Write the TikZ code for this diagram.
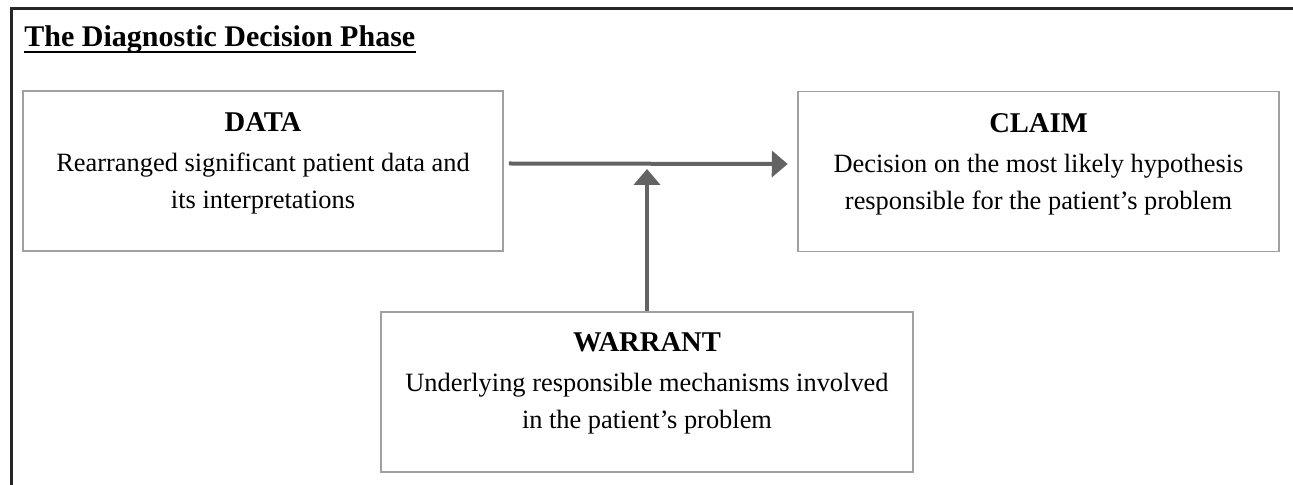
\documentclass[tikz,border=0pt]{standalone}
\usepackage{fontspec}
\setmainfont{Liberation Serif}
\usepackage{tikz}
\usetikzlibrary{positioning}
\usetikzlibrary{arrows.meta}
\definecolor{framecol}{HTML}{262626}
\definecolor{boxcol}{HTML}{A0A0A0}
\definecolor{arrowcol}{HTML}{636363}
\tikzstyle{argbox}=[draw=boxcol, line width=0.75pt, minimum height=80pt, inner sep=0pt]
\tikzstyle{argtext}=[align=center, inner sep=0pt, font=\fontsize{13.2}{18.5}\selectfont]
\tikzstyle{argarrow}=[draw=arrowcol, line width=2pt, -{Triangle[length=8pt, width=13pt]}]
\newcommand{\arghead}[1]{{\fontsize{14.3}{18.5}\selectfont\bfseries #1}}

\begin{document}
\begin{tikzpicture}[x=0.5pt, y=-0.5pt]
        \useasboundingbox (0, 0) rectangle (1293, 485);
        \draw[framecol, line width=1.25pt] (1293, 8.7) -- (11.3, 8.7) -- (11.3, 485);
        \node[anchor=base west, inner sep=0pt, font=\fontsize{15}{18}\selectfont\bfseries] (title) at (24, 47) {The Diagnostic Decision Phase};
        \draw[line width=1pt] ([yshift=-2.6pt]title.base west) -- ([yshift=-2.6pt]title.base east);
        \node[argbox, minimum width=240pt]   (data) at (263, 171) {};
        \node[argbox, minimum width=240.5pt] (claim) at (1038.5, 171.5) {};
        \node[argbox, minimum width=266pt]   (warrant) at (647, 392) {};
        \node[argtext, below=11pt of data.north]    (datatext) {\arghead{DATA}\\[1.5pt]Rearranged significant patient data and\\its interpretations};
        \node[argtext, below=11pt of claim.north]   (claimtext) {\arghead{CLAIM}\\[1.5pt]Decision on the most likely hypothesis\\responsible for the patient’s problem};
        \node[argtext, below=10.5pt of warrant.north] (warranttext) {\arghead{WARRANT}\\[1.5pt]Underlying responsible mechanisms involved\\in the patient’s problem};
        \coordinate (join) at (647, 169);
        \draw[argarrow] ([shift={(2.5pt,3.75pt)}]data.east) -- ([shift={(-4.75pt,3.75pt)}]claim.west);
        \draw[argarrow] (warrant) -- (join);
    \end{tikzpicture}
\end{document}
